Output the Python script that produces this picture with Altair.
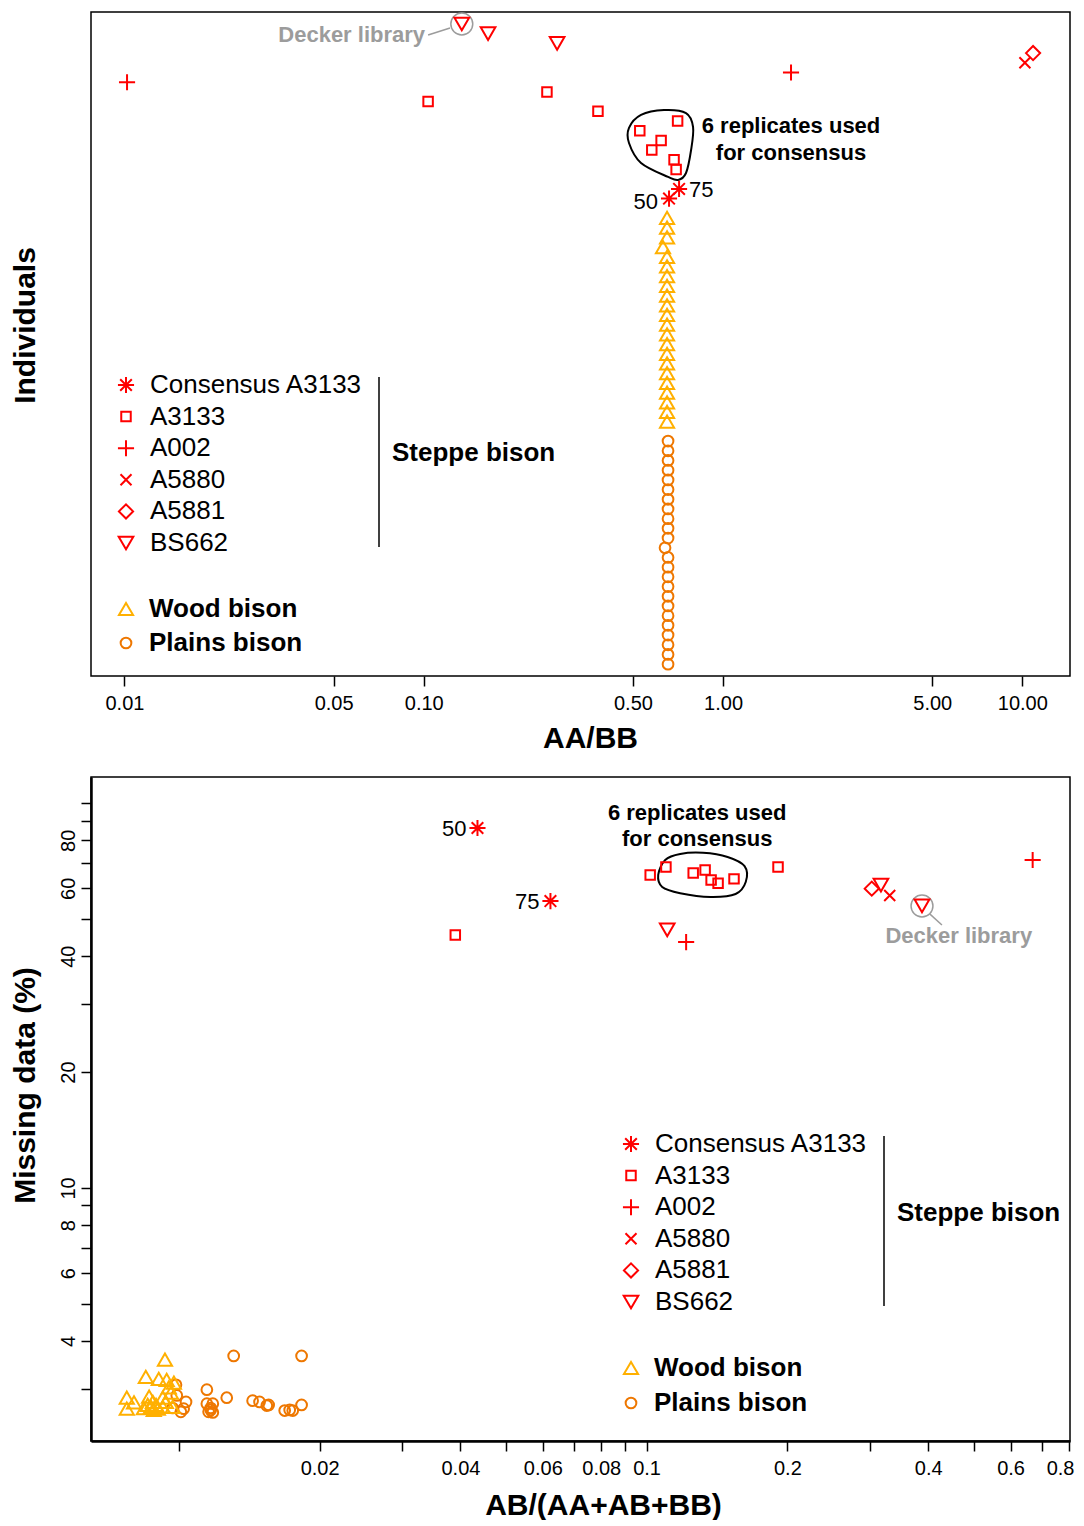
import json
import altair as alt
import pandas as pd

FONT = "Liberation Sans"
RED = "#FF0000"
WOOD = "#FFB000"
PLAINS = "#EE7700"
GREY = "#9C9C9C"

# ---------------- categories / symbols ----------------
GROUPS = ["Consensus A3133", "A3133", "A002", "A5880", "A5881", "BS662", "Wood bison", "Plains bison"]
ASTERISK = "M-1,0L1,0M0,-1L0,1M-0.72,-0.72L0.72,0.72M-0.72,0.72L0.72,-0.72"
PLUS = "M-1,0L1,0M0,-1L0,1"
CROSS = "M-1,-1L1,1M-1,1L1,-1"
SHAPES = [ASTERISK, "square", PLUS, CROSS, "diamond", "triangle-down", "triangle-up", "circle"]
COLORS = [RED, RED, RED, RED, RED, RED, WOOD, PLAINS]
SIZES = [260, 90, 260, 121, 200, 215, 200, 115]

# ---------------- top panel: AA/BB per individual ----------------
top_steppe_group = ["BS662", "BS662", "BS662", "A5881", "A5880", "A002", "A002",
                    "A3133", "A3133", "A3133", "A3133", "A3133", "A3133", "A3133", "A3133", "A3133",
                    "Consensus A3133", "Consensus A3133"]
top_steppe_ratio = [0.134, 0.164, 0.279, 10.86, 10.2, 1.687, 0.0102,
                    0.258, 0.1034, 0.382, 0.705, 0.527, 0.621, 0.578, 0.686, 0.697,
                    0.713, 0.660]
top_steppe_row = [0, 1, 2, 3, 4, 5, 6, 7, 8, 9, 10, 11, 12, 13, 14, 15, 17, 18]

top_wood_ratio = [0.650, 0.650, 0.650, 0.630, 0.650, 0.650, 0.650, 0.650, 0.650, 0.650, 0.650,
                  0.650, 0.650, 0.650, 0.650, 0.650, 0.650, 0.650, 0.650, 0.650, 0.650, 0.650]
top_wood_row = list(range(20, 42))
top_plains_ratio = [0.655, 0.655, 0.655, 0.655, 0.655, 0.655, 0.655, 0.655, 0.655, 0.655, 0.655, 0.640,
                    0.655, 0.655, 0.655, 0.655, 0.655, 0.655, 0.655, 0.655, 0.655, 0.655, 0.655, 0.655]
top_plains_row = list(range(43, 67))

# ---------------- bottom panel: heterozygosity vs missing data ----------------
bot_steppe_group = ["Consensus A3133", "Consensus A3133",
                    "A3133", "A3133", "A3133", "A3133", "A3133", "A3133", "A3133", "A3133", "A3133",
                    "A002", "A002", "BS662", "BS662", "BS662", "A5881", "A5880"]
bot_steppe_ab = [0.0435, 0.0623,
                 0.0390, 0.1018, 0.110, 0.1258, 0.1334, 0.1374, 0.1422, 0.1538, 0.191,
                 0.1215, 0.669, 0.1107, 0.317, 0.388, 0.303, 0.331]
bot_steppe_miss = [86.1, 55.6,
                   45.4, 65.0, 68.2, 65.8, 67.0, 63.1, 61.9, 63.5, 68.2,
                   43.5, 71.1, 46.8, 61.2, 54.0, 59.9, 57.5]

bot_wood_ab = [0.00934, 0.0085, 0.00906, 0.00942, 0.00774, 0.00802, 0.00774, 0.00864, 0.0088, 0.00894,
               0.00872, 0.00902, 0.00924, 0.00938, 0.00952, 0.00962, 0.0097, 0.00924, 0.00884, 0.00842,
               0.00976, 0.00858]
bot_wood_miss = [3.58, 3.23, 3.19, 3.17, 2.85, 2.77, 2.67, 2.87, 2.78, 2.73,
                 2.70, 2.67, 2.85, 2.78, 3.03, 2.94, 2.70, 2.70, 2.65, 2.68,
                 3.12, 2.73]
bot_plains_ab = [0.0131, 0.0183, 0.00986, 0.01148, 0.01266, 0.01024, 0.0101, 0.01148, 0.01182, 0.0117,
                 0.01182, 0.01158, 0.01438, 0.01488, 0.01542, 0.01556, 0.01684, 0.01726, 0.01752, 0.0183,
                 0.0097, 0.0099, 0.0117, 0.01036]
bot_plains_miss = [3.66, 3.66, 3.08, 2.99, 2.85, 2.67, 2.62, 2.75, 2.75, 2.65,
                   2.61, 2.62, 2.80, 2.78, 2.72, 2.73, 2.64, 2.65, 2.64, 2.73,
                   2.68, 2.89, 2.68, 2.78]

# ---------------- annotations (data coordinates) ----------------
blob_top_ratio = [0.635, 0.752, 0.794, 0.782, 0.752, 0.708, 0.655, 0.532, 0.485, 0.485, 0.532]
blob_top_row = [8.87, 9.18, 10.62, 12.99, 15.36, 16.08, 15.77, 14.33, 12.27, 10.72, 9.38]
blob_bot_ab = [0.1059, 0.1096, 0.118, 0.132, 0.149, 0.162, 0.163, 0.155, 0.137, 0.118, 0.108]
blob_bot_miss = [65.0, 71.1, 73.7, 74.2, 72.4, 68.5, 62.4, 58.0, 57.0, 58.3, 60.5]

TOP_X_TICKS = [0.01, 0.05, 0.1, 0.5, 1, 5, 10]
BOT_X_TICKS = [0.01, 0.02, 0.03, 0.04, 0.05, 0.06, 0.07, 0.08, 0.09, 0.1,
               0.2, 0.3, 0.4, 0.5, 0.6, 0.7, 0.8]
BOT_X_LABELED = [0.02, 0.04, 0.06, 0.08, 0.1, 0.2, 0.4, 0.6, 0.8]
BOT_Y_TICKS = [3, 4, 5, 6, 7, 8, 9, 10, 20, 30, 40, 50, 60, 70, 80, 90, 100]
BOT_Y_LABELED = [4, 6, 8, 10, 20, 40, 60, 80]

# ---------------- dataframes ----------------
top_df = pd.concat([
    pd.DataFrame({"group": "Plains bison", "ratio": top_plains_ratio, "row": top_plains_row}),
    pd.DataFrame({"group": "Wood bison", "ratio": top_wood_ratio, "row": top_wood_row}),
    pd.DataFrame({"group": top_steppe_group, "ratio": top_steppe_ratio, "row": top_steppe_row}),
], ignore_index=True)
bot_df = pd.concat([
    pd.DataFrame({"group": "Plains bison", "ab": bot_plains_ab, "miss": bot_plains_miss}),
    pd.DataFrame({"group": "Wood bison", "ab": bot_wood_ab, "miss": bot_wood_miss}),
    pd.DataFrame({"group": bot_steppe_group, "ab": bot_steppe_ab, "miss": bot_steppe_miss}),
], ignore_index=True)

SIZE_EXPR = f"{json.dumps(SIZES)}[indexof({json.dumps(GROUPS)}, datum.group)]"
SHAPE = alt.Shape("group:N", scale=alt.Scale(domain=GROUPS, range=SHAPES), legend=None)
COLOR = alt.Color("group:N", scale=alt.Scale(domain=GROUPS, range=COLORS), legend=None)
SIZE = alt.Size("sz:Q", scale=None, legend=None)

# ---------------- scales / axes ----------------
X_TOP = alt.X("ratio:Q",
              scale=alt.Scale(type="log", domain=[0.00773, 14.43], nice=False),
              axis=alt.Axis(title="AA/BB", values=TOP_X_TICKS, format=".2f", grid=False, domain=False,
                            tickSize=10, tickWidth=1.5, labelPadding=7, labelFontSize=20,
                            labelOverlap=False, labelFlush=False,
                            titleFontSize=30, titleFontWeight="bold", titleX=499, titleY=62,
                            titleAlign="center", titleBaseline="middle"))
Y_TOP = alt.Y("row:Q",
              scale=alt.Scale(domain=[-1.237, 67.22], reverse=True, nice=False, zero=False),
              axis=alt.Axis(title="Individuals", labels=False, ticks=False, domain=False, grid=False,
                            titleFontSize=30, titleFontWeight="bold", titleAngle=270,
                            titleX=-66, titleY=313, titleAlign="center", titleBaseline="middle"))
X_BOT = alt.X("ab:Q",
              scale=alt.Scale(type="log", domain=[0.00649, 0.804], nice=False),
              axis=alt.Axis(title="AB/(AA+AB+BB)", values=BOT_X_TICKS, format="~g", grid=False,
                            domain=True, domainWidth=2.5, domainColor="black",
                            labelExpr=f"indexof({json.dumps(BOT_X_LABELED)}, datum.value) >= 0 ? datum.label : ''",
                            tickSize=10, tickWidth=1.5, labelPadding=7, labelFontSize=20,
                            labelOverlap=False, labelFlush=5, labelFlushOffset=5,
                            titleFontSize=30, titleFontWeight="bold", titleX=512, titleY=64,
                            titleAlign="center", titleBaseline="middle"))
Y_BOT = alt.Y("miss:Q",
              scale=alt.Scale(type="log", domain=[2.20, 116.8], nice=False),
              axis=alt.Axis(title="Missing data (%)", values=BOT_Y_TICKS, format="~g", grid=False,
                            domain=True, domainWidth=2.5, domainColor="black",
                            labelExpr=f"indexof({json.dumps(BOT_Y_LABELED)}, datum.value) >= 0 ? datum.label : ''",
                            tickSize=10, tickWidth=1.5, labelPadding=7, labelFontSize=20,
                            labelAngle=270, labelAlign="center", labelBaseline="alphabetic",
                            labelOverlap=False, labelFlush=False,
                            titleFontSize=30, titleFontWeight="bold", titleAngle=270,
                            titleX=-66, titleY=308, titleAlign="center", titleBaseline="middle"))


def pts(df, x, y):
    return alt.Chart(df).transform_calculate(sz=SIZE_EXPR).mark_point(
        filled=False, strokeWidth=2, opacity=1
    ).encode(x=x, y=y, shape=SHAPE, color=COLOR, size=SIZE)


def txt(df, x, y, **kw):
    base = dict(font=FONT, color="black", baseline="middle")
    base.update(kw)
    return alt.Chart(df).mark_text(**base).encode(x=x, y=y, text="t:N")


def legend(x_sym, x_txt, rows, line_x, line_y0, line_y1, st_x, st_y):
    ldf = pd.DataFrame({"group": GROUPS, "ly": rows, "t": GROUPS})
    ly = alt.Y("ly:Q", scale=None, axis=None)
    sym = alt.Chart(ldf).transform_calculate(sz=SIZE_EXPR).mark_point(
        filled=False, strokeWidth=2, opacity=1
    ).encode(x=alt.value(x_sym), y=ly, shape=SHAPE, color=COLOR, size=SIZE)
    t_norm = alt.Chart(ldf).transform_filter(
        "datum.group != 'Wood bison' && datum.group != 'Plains bison'"
    ).mark_text(font=FONT, fontSize=26, align="left", baseline="middle", color="black").encode(
        x=alt.value(x_txt), y=ly, text="t:N")
    t_bold = alt.Chart(ldf).transform_filter(
        "datum.group == 'Wood bison' || datum.group == 'Plains bison'"
    ).mark_text(font=FONT, fontSize=26, fontWeight="bold", align="left", baseline="middle",
                color="black").encode(x=alt.value(x_txt - 1), y=ly, text="t:N")
    one = pd.DataFrame({"t": ["Steppe bison"]})
    bar = alt.Chart(one).mark_rule(color="black", strokeWidth=1.5).encode(
        x=alt.value(line_x), y=alt.value(line_y0), y2=alt.value(line_y1))
    st = alt.Chart(one).mark_text(font=FONT, fontSize=26, fontWeight="bold", align="left",
                                  baseline="middle", color="black").encode(
        x=alt.value(st_x), y=alt.value(st_y), text="t:N")
    return alt.layer(sym, t_norm, t_bold, bar, st)


STEP = 31.6

# ---------------- top panel ----------------
blob_top = alt.Chart(pd.DataFrame({"ratio": blob_top_ratio, "row": blob_top_row,
                                   "i": list(range(len(blob_top_row)))})).mark_line(
    interpolate="cardinal-closed", color="black", strokeWidth=2).encode(
    x=X_TOP, y=Y_TOP, order="i:Q")
dk_top = pd.DataFrame({"ratio": [0.134], "row": [0]})
dk_circle_top = alt.Chart(dk_top).mark_point(shape="circle", size=480, color=GREY, strokeWidth=1.5,
                                             filled=False, opacity=1).encode(x=X_TOP, y=Y_TOP)
dk_rule_top = alt.Chart(pd.DataFrame({"ratio": [0.1034], "r2": [0.1224], "row": [1.13], "w2": [0.41]})
                        ).mark_rule(color=GREY, strokeWidth=1.5).encode(
    x=X_TOP, x2="r2:Q", y=Y_TOP, y2="w2:Q")
dk_text_top = txt(pd.DataFrame({"ratio": [0.101], "row": [1.13], "t": ["Decker library"]}),
                  X_TOP, Y_TOP, align="right", fontSize=22, fontWeight="bold", color=GREY)
rep_top = txt(pd.DataFrame({"ratio": [1.687, 1.687], "row": [10.5, 13.3],
                            "t": ["6 replicates used", "for consensus"]}),
              X_TOP, Y_TOP, align="center", fontSize=22, fontWeight="bold")
l50_top = txt(pd.DataFrame({"ratio": [0.660], "row": [18], "t": ["50"]}), X_TOP, Y_TOP,
              align="right", dx=-11, dy=3, fontSize=22)
l75_top = txt(pd.DataFrame({"ratio": [0.713], "row": [17], "t": ["75"]}), X_TOP, Y_TOP,
              align="left", dx=10, dy=1, fontSize=22)

top_data = alt.layer(blob_top, dk_circle_top, dk_rule_top, dk_text_top, rep_top, l50_top, l75_top,
                     pts(top_df, X_TOP, Y_TOP))
top_rows = [373 + i * STEP for i in range(6)] + [597, 631]
top_leg = legend(35, 59, top_rows, 288, 365, 535, 301, 441)
top = alt.layer(top_data, top_leg).resolve_scale(y="independent").properties(width=979, height=664)

# ---------------- bottom panel ----------------
blob_bot = alt.Chart(pd.DataFrame({"ab": blob_bot_ab, "miss": blob_bot_miss,
                                   "i": list(range(len(blob_bot_ab)))})).mark_line(
    interpolate="cardinal-closed", color="black", strokeWidth=2).encode(
    x=X_BOT, y=Y_BOT, order="i:Q")
dk_circle_bot = alt.Chart(pd.DataFrame({"ab": [0.388], "miss": [54.0]})).mark_point(
    shape="circle", size=480, color=GREY, strokeWidth=1.5, filled=False, opacity=1).encode(x=X_BOT, y=Y_BOT)
dk_rule_bot = alt.Chart(pd.DataFrame({"ab": [0.403], "a2": [0.428], "miss": [51.5], "m2": [48.2]})
                        ).mark_rule(color=GREY, strokeWidth=1.5).encode(
    x=X_BOT, x2="a2:Q", y=Y_BOT, y2="m2:Q")
dk_text_bot = txt(pd.DataFrame({"ab": [0.465], "miss": [45.1], "t": ["Decker library"]}),
                  X_BOT, Y_BOT, align="center", fontSize=22, fontWeight="bold", color=GREY)
rep_bot = txt(pd.DataFrame({"ab": [0.1283, 0.1283], "miss": [94.2, 80.6],
                            "t": ["6 replicates used", "for consensus"]}),
              X_BOT, Y_BOT, align="center", fontSize=22, fontWeight="bold")
l50_bot = txt(pd.DataFrame({"ab": [0.0435], "miss": [86.1], "t": ["50"]}), X_BOT, Y_BOT,
              align="right", dx=-11, dy=1, fontSize=22)
l75_bot = txt(pd.DataFrame({"ab": [0.0623], "miss": [55.6], "t": ["75"]}), X_BOT, Y_BOT,
              align="right", dx=-11, dy=1, fontSize=22)

bot_data = alt.layer(blob_bot, dk_circle_bot, dk_rule_bot, dk_text_bot, rep_bot, l50_bot, l75_bot,
                     pts(bot_df, X_BOT, Y_BOT))
bot_rows = [367 + i * STEP for i in range(6)] + [591, 626]
bot_leg = legend(540, 564, bot_rows, 793, 359, 529, 806, 436)
bottom = alt.layer(bot_data, bot_leg).resolve_scale(y="independent").properties(width=979, height=664)

chart = alt.vconcat(top, bottom, spacing=22).properties(
    padding={"left": 1, "top": 1, "right": 0, "bottom": -1}
).configure_view(stroke="black", strokeWidth=1.5).configure_axis(
    labelFont=FONT, titleFont=FONT, labelColor="black", titleColor="black", tickColor="black"
).configure_text(font=FONT)

chart.save("out.html", embed_options={"renderer": "svg", "actions": False})
